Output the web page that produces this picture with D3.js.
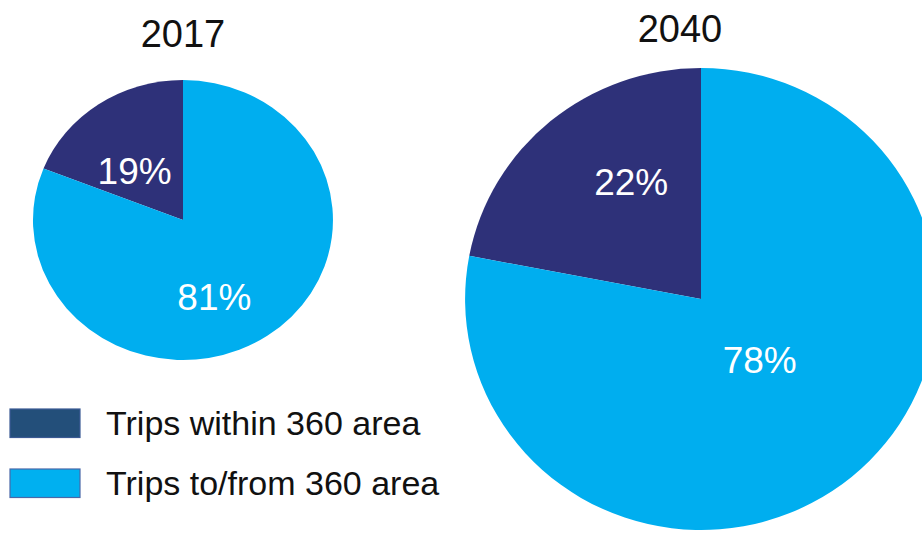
<!DOCTYPE html>
<html lang="en">
<head>
<meta charset="utf-8" />
<title>Trips 2017 vs 2040</title>
<script src="https://d3js.org/d3.v7.min.js"></script>
<style>
  body{margin:0;background:#fff;font-family:"Liberation Sans",Arial,sans-serif;}
  svg{display:block;}
</style>
</head>
<body>
<svg id="chart" width="922" height="533"></svg>
<script>
// -------------- DATA --------------
const CATEGORIES=['Trips within 360 area','Trips to/from 360 area'];
const YEARS=['2017','2040'];
const SHARE_2017=[19,81];
const SHARE_2040=[22,78];

// -------------- LAYOUT / STYLE --------------
const PIE_COLORS=['#2e3179','#00aeef'];
const SWATCH_FILL=['#234f7a','#00b0f0'];
const SWATCH_STROKE=['#3b5a94','#4a68a8'];
const PIES=[
  {cx:183,cy:220,rx:150,ry:140,titleX:183,titleY:47,nudge:[[-2,14],[-15,13]]},
  {cx:701,cy:299,rx:236,ry:231,titleX:680,titleY:42,nudge:[[13,-19],[-24,-37]]}
];

const svg=d3.select('#chart');
const series=[SHARE_2017,SHARE_2040];

series.forEach((vals,i)=>{
  const L=PIES[i];
  const total=d3.sum(vals);
  const start=-vals[0]/total*2*Math.PI;
  const pie=d3.pie().sort(null).startAngle(start).endAngle(start+2*Math.PI);
  const arcs=pie(vals);

  // pie drawn as unit circle then stretched to the ellipse
  const g=svg.append('g').attr('transform',`translate(${L.cx},${L.cy}) scale(${L.rx},${L.ry})`);
  const arc=d3.arc().innerRadius(0).outerRadius(1);
  g.selectAll('path').data(arcs).join('path')
    .attr('d',arc).attr('fill',(d,j)=>PIE_COLORS[j]);

  // labels
  const labelArc=d3.arc().innerRadius(0.55).outerRadius(0.55);
  svg.append('g').selectAll('text').data(arcs).join('text')
    .attr('x',(d,j)=>L.cx+labelArc.centroid(d)[0]*L.rx+L.nudge[j][0])
    .attr('y',(d,j)=>L.cy+labelArc.centroid(d)[1]*L.ry+L.nudge[j][1])
    .attr('dy','0.36em')
    .attr('text-anchor','middle')
    .attr('fill','#fff')
    .style('font-size','37px')
    .text(d=>d.data+'%');

  // title
  svg.append('text').attr('x',L.titleX).attr('y',L.titleY)
    .attr('text-anchor','middle').attr('fill','#111')
    .style('font-size','38px').text(YEARS[i]);
});

// -------------- LEGEND --------------
const leg=svg.append('g').attr('class','legend');
const legY=d3.scalePoint().domain(CATEGORIES).range([409,469]);
CATEGORIES.forEach((c,j)=>{
  leg.append('rect').attr('x',10).attr('y',legY(c)).attr('width',70).attr('height',28.5)
    .attr('fill',SWATCH_FILL[j]).attr('stroke',SWATCH_STROKE[j]).attr('stroke-width',1.2);
  leg.append('text').attr('x',106).attr('y',legY(c)+26)
    .attr('fill','#111').style('font-size','34px').text(c);
});
</script>
</body>
</html>
